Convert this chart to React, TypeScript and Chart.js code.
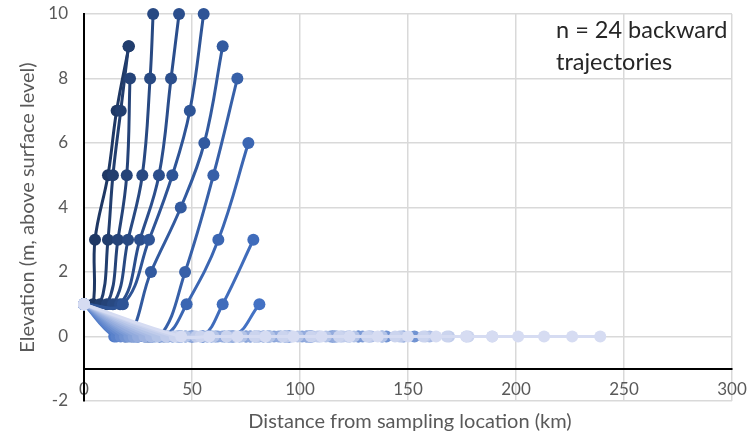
import React, { useEffect, useRef } from "react";
import { Chart, registerables } from "chart.js";

Chart.register(...registerables);

// ---- axis ticks / labels ----
const xTicks = [0, 50, 100, 150, 200, 250, 300];
const yTicks = [-2, 0, 2, 4, 6, 8, 10];
const xAxisCrossesAt = -1;
const xTitle = "Distance from sampling location (km)";
const yTitle = "Elevation (m, above surface level)";
const noteLines = ["n = 24 backward", "trajectories"];

// ---- 24 backward trajectories: distance (km) / elevation (m) ----
const t01x = [0, 4.2, 5.1, 11.1, 15.1, 20.8];
const t01y = [1, 1, 3, 5, 7, 9];
const t02x = [0, 7.4, 11.1, 13.4, 17.0, 20.6];
const t02y = [1, 1, 3, 5, 7, 9];
const t03x = [0, 10.6, 15.7, 19.8, 21.3];
const t03y = [1, 1, 3, 5, 8];
const t04x = [0, 13.4, 20.4, 27.0, 30.6, 32.0];
const t04y = [1, 1, 3, 5, 8, 10];
const t05x = [0, 16.7, 25.9, 34.7, 40.3, 44.0];
const t05y = [1, 1, 3, 5, 8, 10];
const t06x = [0, 18.0, 30.1, 40.9, 49.0, 55.4];
const t06y = [1, 1, 3, 5, 7, 10];
const t07x = [0, 19, 31.0, 44.8, 55.7, 64.2];
const t07y = [1, 0, 2, 4, 6, 9];
const t08x = [0, 22, 35, 46.8, 59.9, 71.0];
const t08y = [1, 0, 0, 2, 5, 8];
const t09x = [0, 20, 37, 47.5, 62.2, 76.1];
const t09y = [1, 0, 0, 1, 3, 6];
const t10x = [0, 24, 44, 55, 64.2, 78.4];
const t10y = [1, 0, 0, 0, 1, 3];
const t11x = [0, 25, 47, 69, 81.2];
const t11y = [1, 0, 0, 0, 1];
const t12x = [0, 14, 23, 32, 41, 50, 59, 68, 77, 86, 95, 104];
const t12y = [1, 0, 0, 0, 0, 0, 0, 0, 0, 0, 0, 0];
const t13x = [0, 15, 25, 35, 45, 55, 65, 75, 85, 95, 105, 115];
const t13y = [1, 0, 0, 0, 0, 0, 0, 0, 0, 0, 0, 0];
const t14x = [0, 17, 28, 39, 50, 61, 72, 83, 94, 105, 116, 127, 138, 148];
const t14y = [1, 0, 0, 0, 0, 0, 0, 0, 0, 0, 0, 0, 0, 0];
const t15x = [0, 19, 31, 43, 55, 67, 79, 91, 103, 115, 127, 140, 153];
const t15y = [1, 0, 0, 0, 0, 0, 0, 0, 0, 0, 0, 0, 0];
const t16x = [0, 21, 33, 45, 57, 69, 81, 93, 105, 117, 129];
const t16y = [1, 0, 0, 0, 0, 0, 0, 0, 0, 0, 0];
const t17x = [0, 23, 36, 49, 62, 75, 88, 101, 114, 123];
const t17y = [1, 0, 0, 0, 0, 0, 0, 0, 0, 0];
const t18x = [0, 25, 38, 51, 64, 77, 90, 103, 116, 132];
const t18y = [1, 0, 0, 0, 0, 0, 0, 0, 0, 0];
const t19x = [0, 28, 41, 54, 67, 80, 93, 106, 119];
const t19y = [1, 0, 0, 0, 0, 0, 0, 0, 0];
const t20x = [0, 31, 44, 57, 70, 83, 96, 109, 122, 133, 147, 160];
const t20y = [1, 0, 0, 0, 0, 0, 0, 0, 0, 0, 0, 0];
const t21x = [0, 34, 47, 60, 73, 86, 99, 112, 125, 138];
const t21y = [1, 0, 0, 0, 0, 0, 0, 0, 0, 0];
const t22x = [0, 38, 52, 66, 80, 94, 108, 120, 132, 146, 158, 169, 177];
const t22y = [1, 0, 0, 0, 0, 0, 0, 0, 0, 0, 0, 0, 0];
const t23x = [0, 42, 54, 66, 79, 92, 105, 118, 131, 144, 157, 168, 178, 189];
const t23y = [1, 0, 0, 0, 0, 0, 0, 0, 0, 0, 0, 0, 0, 0];
const t24x = [0, 45, 58, 71, 84, 97, 110, 123, 136, 150, 163, 177, 189, 201, 213, 226, 239];
const t24y = [1, 0, 0, 0, 0, 0, 0, 0, 0, 0, 0, 0, 0, 0, 0, 0, 0];

const trajectories: [number[], number[]][] = [
  [t01x, t01y], [t02x, t02y], [t03x, t03y], [t04x, t04y], [t05x, t05y], [t06x, t06y],
  [t07x, t07y], [t08x, t08y], [t09x, t09y], [t10x, t10y], [t11x, t11y], [t12x, t12y],
  [t13x, t13y], [t14x, t14y], [t15x, t15y], [t16x, t16y], [t17x, t17y], [t18x, t18y],
  [t19x, t19y], [t20x, t20y], [t21x, t21y], [t22x, t22y], [t23x, t23y], [t24x, t24y],
];

// blue monochrome palette, dark (first) -> light (last)
const colorStops: [number, number[]][] = [
  [0, [31, 56, 100]],
  [5, [46, 84, 150]],
  [10, [68, 114, 196]],
  [23, [214, 220, 242]],
];
function colorFor(i: number): string {
  for (let s = 0; s < colorStops.length - 1; s++) {
    const [a, ca] = colorStops[s];
    const [b, cb] = colorStops[s + 1];
    if (i >= a && i <= b) {
      const t = (i - a) / (b - a);
      const c = ca.map((v, k) => Math.round(v + (cb[k] - v) * t));
      return `rgb(${c[0]},${c[1]},${c[2]})`;
    }
  }
  return "rgb(214,220,242)";
}

const FONT = "Lato, 'Open Sans', sans-serif";

const textPlugin = {
  id: "extraTexts",
  afterDraw(chart: any) {
    const { ctx, chartArea } = chart;
    ctx.save();
    ctx.fillStyle = "#595959";
    ctx.font = `20px ${FONT}`;
    ctx.textAlign = "center";
    ctx.textBaseline = "alphabetic";
    ctx.fillText(xTitle, (chartArea.left + chartArea.right) / 2 + 2, 428);
    ctx.fillStyle = "#262626";
    ctx.font = `23.5px ${FONT}`;
    ctx.textAlign = "left";
    ctx.fillText(noteLines[0], 556, 38);
    ctx.fillText(noteLines[1], 556, 70);
    ctx.restore();
  },
};

export default function App() {
  const ref = useRef<HTMLCanvasElement | null>(null);

  useEffect(() => {
    if (!ref.current) return;
    const datasets = trajectories.map(([xs, ys], i) => {
      const col = colorFor(i);
      return {
        label: `Trajectory ${i + 1}`,
        data: xs.map((x, k) => ({ x, y: ys[k] })),
        showLine: true,
        tension: 0.4,
        borderColor: col,
        backgroundColor: col,
        borderWidth: 3,
        pointRadius: 6,
        pointBorderWidth: 0,
        pointBackgroundColor: col,
        order: trajectories.length - 1 - i,
        clip: 8,
      };
    });

    const chart = new Chart(ref.current, {
      type: "scatter",
      data: { datasets },
      plugins: [textPlugin],
      options: {
        animation: false,
        responsive: false,
        maintainAspectRatio: false,
        layout: { padding: { left: 0, right: 23, top: 14, bottom: 38 } },
        plugins: { legend: { display: false }, tooltip: { enabled: false } },
        scales: {
          x: {
            type: "linear",
            position: { y: xAxisCrossesAt } as any,
            min: xTicks[0],
            max: xTicks[xTicks.length - 1],
            ticks: {
              stepSize: xTicks[1] - xTicks[0],
              color: "#595959",
              font: { family: FONT, size: 17 },
              padding: 11,
              maxRotation: 0,
            },
            grid: { color: "#d9d9d9", lineWidth: 1.5, drawTicks: false },
            border: { display: true, color: "#000000", width: 2 },
            afterFit: (scale: any) => {
              scale.paddingLeft = 0;
              scale.paddingRight = 0;
            },
          },
          y: {
            type: "linear",
            position: "left",
            min: yTicks[0],
            max: yTicks[yTicks.length - 1],
            ticks: {
              stepSize: yTicks[1] - yTicks[0],
              color: "#595959",
              font: { family: FONT, size: 17 },
              padding: 16,
            },
            grid: { color: "#d9d9d9", lineWidth: 1.5, drawTicks: false },
            border: { display: true, color: "#000000", width: 2 },
            title: {
              display: true,
              text: yTitle,
              color: "#595959",
              font: { family: FONT, size: 20 },
              padding: { top: 16, bottom: 0 },
            },
            afterFit: (scale: any) => {
              scale.width = 84;
              scale.paddingTop = 0;
              scale.paddingBottom = 0;
            },
          },
        },
      },
    });
    return () => chart.destroy();
  }, []);

  return (
    <div style={{ position: "fixed", left: 0, top: 0, width: 755, height: 439, background: "#fff" }}>
      <canvas ref={ref} width={755} height={439} style={{ width: 755, height: 439, display: "block" }} />
    </div>
  );
}
